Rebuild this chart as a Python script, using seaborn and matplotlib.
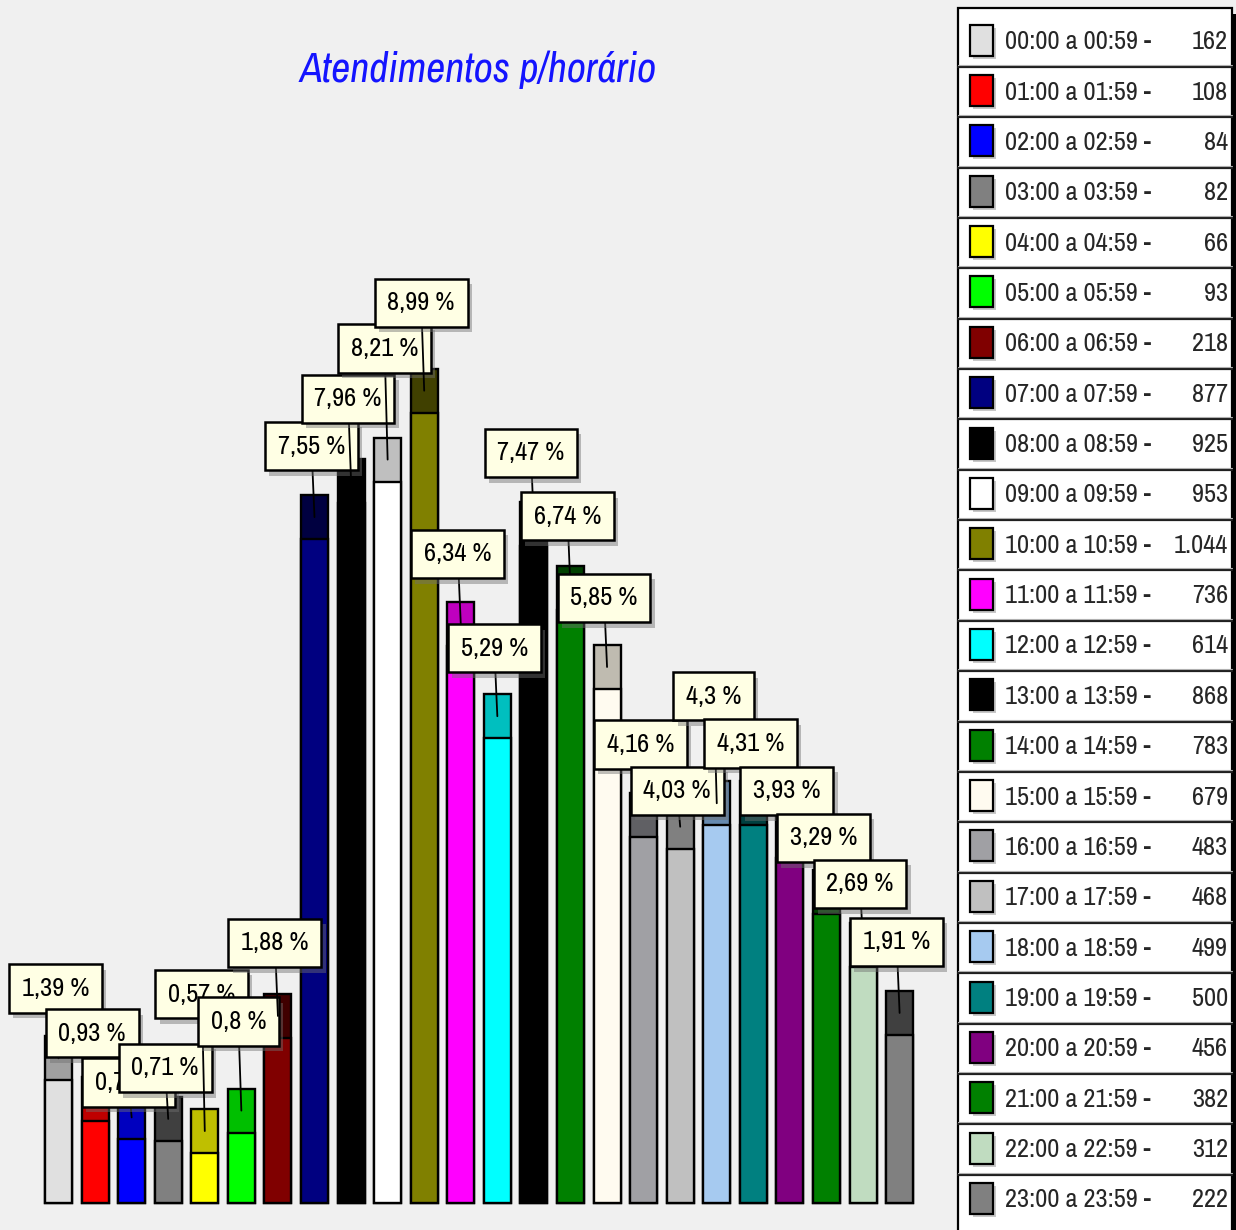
import matplotlib
matplotlib.use("Agg")
import matplotlib.pyplot as plt
import matplotlib.colors as mcolors
import matplotlib.patheffects as pe
from matplotlib.patches import Rectangle
from matplotlib import font_manager
import seaborn as sns
import pandas as pd

# data
hours = ["00:00 a 00:59", "01:00 a 01:59", "02:00 a 02:59", "03:00 a 03:59",
         "04:00 a 04:59", "05:00 a 05:59", "06:00 a 06:59", "07:00 a 07:59",
         "08:00 a 08:59", "09:00 a 09:59", "10:00 a 10:59", "11:00 a 11:59",
         "12:00 a 12:59", "13:00 a 13:59", "14:00 a 14:59", "15:00 a 15:59",
         "16:00 a 16:59", "17:00 a 17:59", "18:00 a 18:59", "19:00 a 19:59",
         "20:00 a 20:59", "21:00 a 21:59", "22:00 a 22:59", "23:00 a 23:59"]
counts = [162, 108, 84, 82, 66, 93, 218, 877, 925, 953, 1044, 736,
          614, 868, 783, 679, 483, 468, 499, 500, 456, 382, 312, 222]
bar_colors = ["#E0E0E0", "#FF0000", "#0000FF", "#808080", "#FFFF00", "#00FF00",
              "#800000", "#000080", "#000000", "#FFFFFF", "#808000", "#FF00FF",
              "#00FFFF", "#000000", "#008000", "#FFFBF0", "#A0A0A4", "#C0C0C0",
              "#A6CAF0", "#008080", "#800080", "#008000", "#C0DCC0", "#808080"]
title = "Atendimentos p/horário"

# how far (px) each callout box sits above its bar top, mimics TeeChart anti-overlap
label_lift = [70, 66, 35, 51, 137, 89, 73, 71, 82, 111, 88, 70,
              68, 71, 72, 69, 71, 36, 107, 59, 45, 54, 61, 71]

W, H = 1236, 1230
BG = "#F0F0F0"

# narrow font like the old MS Sans Serif look, fall back to DejaVu if missing
names = {f.name for f in font_manager.fontManager.ttflist}
if "Archivo Narrow" in names:
    narrow, fs, fs_title = "Archivo Narrow", 19, 30
else:
    narrow, fs, fs_title = "DejaVu Sans", 14, 24

sns.set_style("white")
plt.rcParams["font.family"] = [narrow, "DejaVu Sans"]


def darker(c):
    # TeeChart style top face: subtract 64 from each channel
    r, g, b = mcolors.to_rgb(c)
    return tuple(max(0.0, v - 64 / 255) for v in (r, g, b))


def fmt_pct(v):
    s = "{:.2f}".format(v).rstrip("0").rstrip(".")
    return s.replace(".", ",") + " %"


total = sum(counts)
df = pd.DataFrame({"hour": hours, "count": counts})
df["pct"] = df["count"] * 100.0 / total

# geometry of the plot area (pixels of the reference)
px_step = 36.57          # distance between bar centres
first_px = 58.5          # centre of first bar
base_px = 1203           # baseline, from the top
px_unit = 0.757          # pixels per count
cap = 44 / px_unit       # depth of the 3d top face, in counts
df["top"] = df["count"] + cap

fig = plt.figure(figsize=(W / 100, H / 100), dpi=100, facecolor=BG)
ax = fig.add_axes([0, 0, 950 / W, 1])
ax.set_facecolor(BG)

pal = dict(zip(hours, bar_colors))
cap_pal = {h: darker(c) for h, c in pal.items()}

sns.barplot(data=df, x="hour", y="top", hue="hour", palette=cap_pal,
            saturation=1, width=0.74, edgecolor="black", linewidth=1.7,
            legend=False, ax=ax)
sns.barplot(data=df, x="hour", y="count", hue="hour", palette=pal,
            saturation=1, width=0.74, edgecolor="black", linewidth=1.7,
            legend=False, ax=ax)

x0 = -first_px / px_step
ax.set_xlim(x0, x0 + 950 / px_step)
ax.set_ylim(-(H - base_px) / px_unit, base_px / px_unit)
ax.axis("off")

# percentage callouts
for i, row in df.iterrows():
    ann = ax.annotate(fmt_pct(row["pct"]), xy=(i, row["count"] + cap / 2),
                      xytext=(-3, label_lift[i]), textcoords="offset pixels",
                      ha="center", va="center", fontsize=fs, color="black",
                      bbox=dict(boxstyle="square,pad=0.48", fc="#FFFFE4",
                                ec="black", lw=1.8),
                      arrowprops=dict(arrowstyle="-", color="black", lw=1.3,
                                      shrinkA=0, shrinkB=0),
                      annotation_clip=False, zorder=5 + i * 0.01)
    ann.get_bbox_patch().set_path_effects(
        [pe.SimplePatchShadow(offset=(3, -4), shadow_rgbFace="#707070", alpha=0.45),
         pe.Normal()])

fig.text(478 / W, 1 - 70 / H, title, ha="center", va="center",
         fontsize=fs_title, style="italic", color="#1414FF")

# legend table on the right
lax = fig.add_axes([955 / W, 0, (W - 955) / W, 1])
lax.set_xlim(955, W)
lax.set_ylim(H, 0)
lax.axis("off")
lax.add_patch(Rectangle((1232, 14), 4, H, fc="black", ec="none"))
lax.add_patch(Rectangle((958, 8), 274, H, fc="white", ec="black", lw=1.6))
row_h = 50.36
row0 = 16.5
for k, (h, c, n) in enumerate(zip(hours, bar_colors, counts)):
    top = row0 + k * row_h
    if k > 0:
        lax.plot([958, 1232], [top, top], color="#202020", lw=1.6)
        lax.plot([958, 1232], [top - 2, top - 2], color="#B0B0B0", lw=0.8)
    mid = top + row_h / 2
    lax.add_patch(Rectangle((973, mid - 14), 23, 31, fc="#C8C8C8", ec="none"))
    lax.add_patch(Rectangle((970, mid - 17), 23, 31, fc=c, ec="black", lw=1.6))
    lax.text(1005, mid, h + " -", ha="left", va="center", fontsize=fs)
    lax.text(1228, mid, "{:,}".format(n).replace(",", "."), ha="right",
             va="center", fontsize=fs)

fig.savefig("out.png", dpi=100, facecolor=BG)
